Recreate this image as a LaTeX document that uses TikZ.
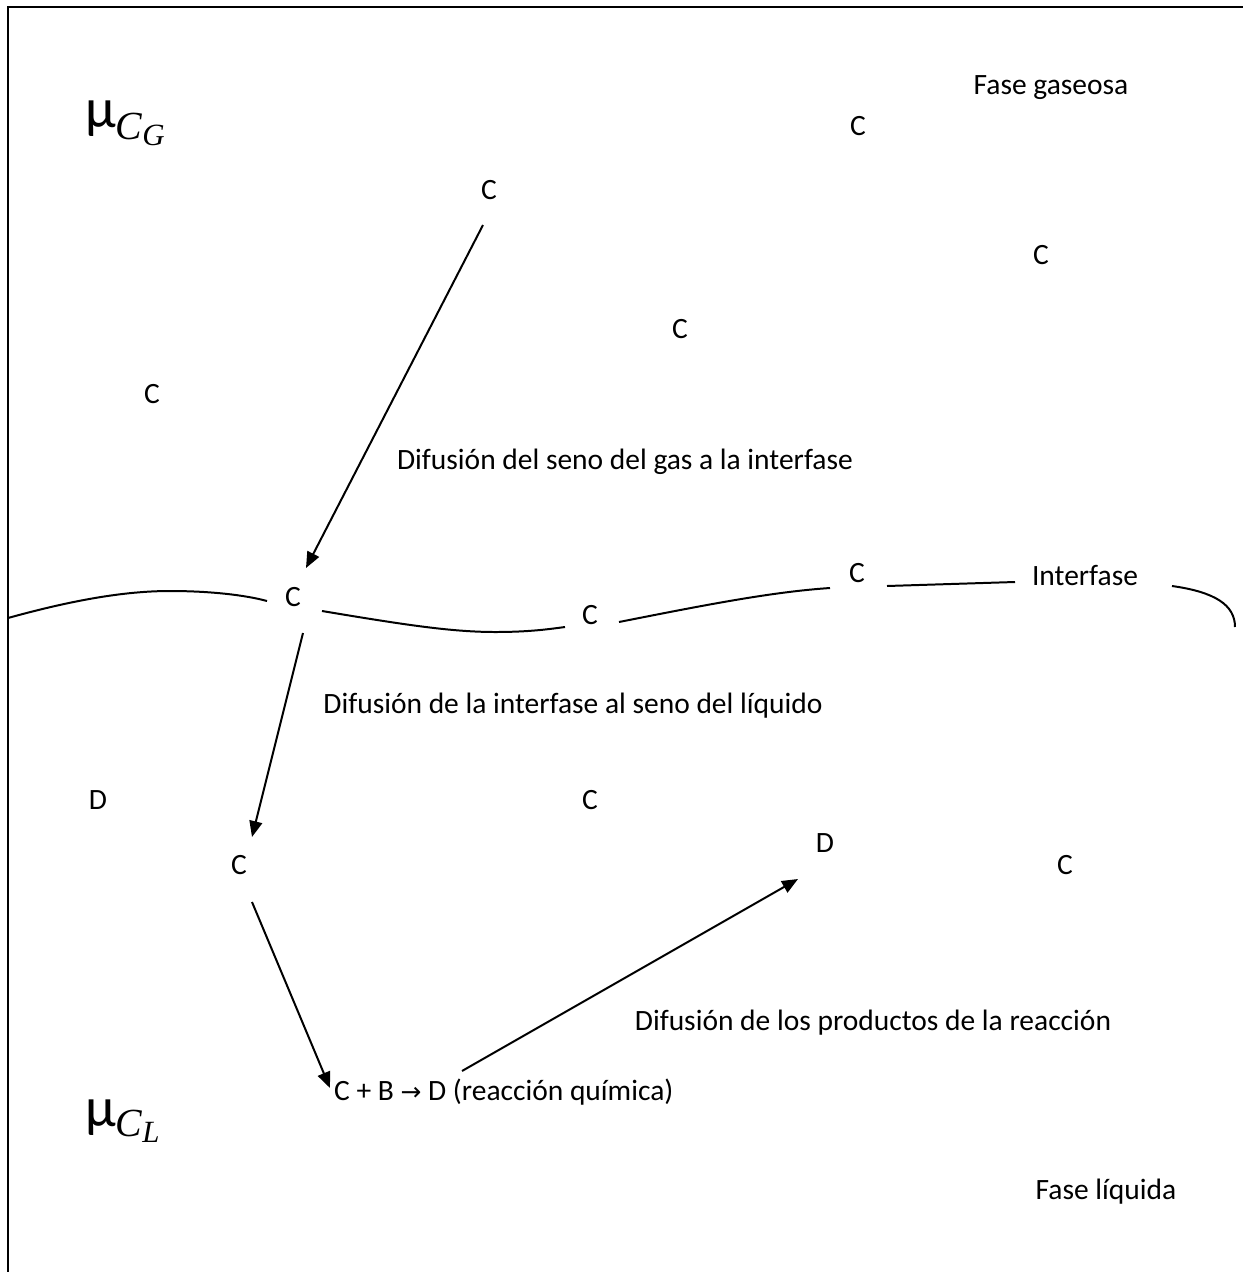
\documentclass[tikz,border=0pt]{standalone}
\usepackage{fontspec}
\setmainfont{Carlito}
\newfontfamily\seriffont{Liberation Serif}
\newfontfamily\arrowfont{DejaVu Sans}
\usetikzlibrary{arrows.meta}
\begin{document}
\begin{tikzpicture}[x=1bp,y=-1bp,
  lbl/.style={font=\fontsize{29.6}{34}\selectfont, inner sep=0pt},
  curve/.style={line width=2pt},
  arr/.style={line width=2pt, -{Triangle[length=16pt,width=13pt]}},
  frame/.style={line width=2.8pt}]
\fill[white] (0,0) rectangle (1243,1272);
\useasboundingbox (0,0) rectangle (1243,1272);
\coordinate (tr) at (1243,7);
\coordinate (tl) at (8,7);
\coordinate (bl) at (8,1272);
\draw[frame] (tr) -- (tl) -- (bl);

% labels
\node[lbl] (fg) at (1051,88) {Fase gaseosa};
\node[lbl] (fl) at (1106,1192) {Fase líquida};
\node[lbl] (intf) at (1085,575) {Interfase};
\node[lbl] (t1) at (625,462) {Difusión del seno del gas a la interfase};
\node[lbl] (t2) at (573,706) {Difusión de la interfase al seno del líquido};
\node[lbl] (t3) at (873,1023) {Difusión de los productos de la reacción};
\node[lbl, anchor=base west] (rx) at (334,1100)
  {C + B {\arrowfont\fontsize{25}{28}\selectfont →} D (reacción química)};

% mu labels
\node[inner sep=0pt, anchor=base west] (muG) at (85,127)
  {\fontsize{56}{60}\selectfont μ\raisebox{-13pt}{\seriffont\itshape\fontsize{40}{40}\selectfont C}\raisebox{-19pt}{\seriffont\itshape\fontsize{31}{32}\selectfont G}};
\node[inner sep=0pt, anchor=base west] (muL) at (85,1126)
  {\fontsize{56}{60}\selectfont μ\raisebox{-11pt}{\seriffont\itshape\fontsize{40}{40}\selectfont C}\raisebox{-17pt}{\seriffont\itshape\fontsize{31}{32}\selectfont L}};

% C and D nodes
\node[lbl] (c1) at (858,126) {C};
\node[lbl] (c2) at (489,190) {C};
\node[lbl] (c3) at (1041,255) {C};
\node[lbl] (c4) at (680,329) {C};
\node[lbl] (c5) at (152,394) {C};
\node[lbl] (c6) at (293,597) {C};
\node[lbl] (c7) at (590,615) {C};
\node[lbl] (c8) at (857,573) {C};
\node[lbl] (c9) at (590,800) {C};
\node[lbl] (c10) at (239,865) {C};
\node[lbl] (c11) at (1065,865) {C};
\node[lbl] (d1) at (98,800) {D};
\node[lbl] (d2) at (825,843) {D};

% interface curve
\draw[curve] (8,618) .. controls (80,598) and (130,591) .. (170,591)
  .. controls (210,591) and (245,595) .. (267,601);
\draw[curve] (322,611) .. controls (400,624) and (450,632) .. (495,632)
  .. controls (530,632) and (550,629) .. (565,627);
\draw[curve] (619,622) .. controls (700,606) and (770,592) .. (830,588);
\draw[curve] (887,586) -- (1015,582);
\draw[curve] (1172,586) .. controls (1215,592) and (1235,605) .. (1235,627);

% arrows
\coordinate (a1s) at (483,225);
\coordinate (a1e) at (306,568);
\coordinate (a2s) at (303,633);
\coordinate (a2e) at (252,837);
\coordinate (a3s) at (252,902);
\coordinate (a3e) at (330,1088);
\coordinate (a4s) at (462,1071);
\coordinate (a4e) at (798,879);
\draw[arr] (a1s) -- (a1e);
\draw[arr] (a2s) -- (a2e);
\draw[arr] (a3s) -- (a3e);
\draw[arr] (a4s) -- (a4e);
\end{tikzpicture}
\end{document}
